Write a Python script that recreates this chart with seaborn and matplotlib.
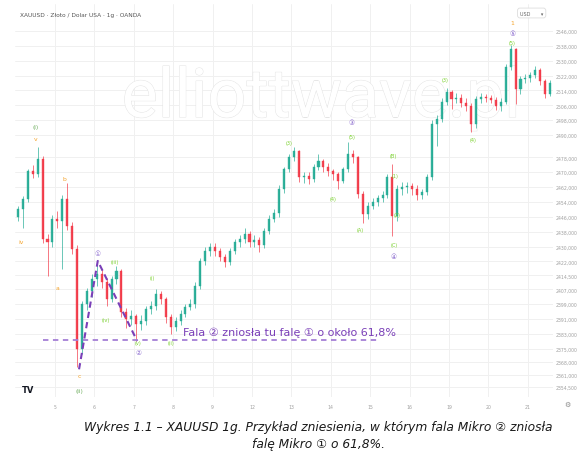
import numpy as np
import pandas as pd
import matplotlib
matplotlib.use("Agg")
import matplotlib.pyplot as plt
import matplotlib.patheffects as pe
import seaborn as sns

# ── Data: 3-hour candles, XAUUSD (8 per trading day) ─────────────────────────
first_open = 2446.0
close = [2450.0, 2455.5, 2470.5, 2469.0, 2477.0, 2434.0, 2432.5, 2445.0, 2444.0, 2455.5,
         2441.0, 2428.5, 2375.0, 2399.0, 2406.0, 2412.5, 2415.5, 2411.0, 2402.0, 2412.5,
         2417.0, 2395.0, 2391.0, 2392.5, 2388.5, 2390.0, 2396.5, 2398.0, 2404.5, 2402.0,
         2392.0, 2387.0, 2390.0, 2394.0, 2397.5, 2399.0, 2409.0, 2422.5, 2427.5, 2430.0,
         2427.5, 2424.5, 2421.5, 2427.5, 2432.5, 2434.0, 2437.0, 2432.5, 2433.5, 2431.0,
         2438.5, 2445.0, 2448.0, 2461.0, 2471.5, 2478.0, 2481.5, 2467.5, 2468.0, 2466.5,
         2473.0, 2476.0, 2473.0, 2470.5, 2469.0, 2465.5, 2471.5, 2480.0, 2478.0, 2458.5,
         2447.5, 2452.0, 2454.0, 2456.0, 2458.0, 2467.5, 2446.5, 2461.0, 2462.0, 2462.5,
         2461.0, 2458.0, 2459.5, 2467.5, 2496.0, 2498.5, 2508.0, 2513.0, 2509.5, 2510.0,
         2507.5, 2505.5, 2496.0, 2509.5, 2510.5, 2510.0, 2509.0, 2505.5, 2508.0, 2526.5,
         2536.5, 2515.0, 2520.0, 2520.5, 2522.5, 2525.0, 2519.0, 2512.0, 2518.0]
high = [2452.0, 2457.0, 2472.0, 2474.0, 2483.5, 2479.0, 2437.0, 2447.0, 2449.0, 2458.0,
        2464.0, 2443.0, 2431.0, 2401.0, 2408.0, 2415.0, 2421.5, 2418.0, 2413.0, 2414.0,
        2419.5, 2418.0, 2397.0, 2396.0, 2394.0, 2393.0, 2398.0, 2401.0, 2407.0, 2406.0,
        2403.0, 2394.0, 2392.0, 2396.0, 2399.0, 2402.0, 2411.0, 2424.0, 2430.0, 2432.0,
        2432.0, 2429.0, 2426.0, 2429.0, 2434.0, 2436.0, 2440.0, 2438.5, 2436.0, 2435.0,
        2440.0, 2447.0, 2450.0, 2463.0, 2473.0, 2480.0, 2483.5, 2482.0, 2470.0, 2470.0,
        2474.5, 2480.0, 2477.0, 2475.0, 2472.0, 2470.0, 2473.0, 2486.5, 2482.0, 2479.0,
        2460.0, 2454.0, 2456.0, 2458.0, 2460.0, 2469.0, 2474.5, 2463.0, 2465.0, 2465.0,
        2464.0, 2463.0, 2461.0, 2469.0, 2498.0, 2501.0, 2510.0, 2515.5, 2514.0, 2512.5,
        2512.0, 2510.0, 2507.0, 2511.0, 2512.5, 2512.0, 2511.5, 2510.5, 2510.0, 2528.0,
        2538.5, 2537.0, 2522.0, 2523.0, 2524.0, 2527.0, 2526.0, 2520.0, 2519.5]
low = [2444.0, 2440.0, 2454.0, 2467.0, 2467.5, 2432.0, 2414.0, 2430.0, 2440.0, 2418.0,
       2439.0, 2426.0, 2365.0, 2372.0, 2396.0, 2403.0, 2409.0, 2408.0, 2398.0, 2400.0,
       2410.0, 2392.0, 2386.0, 2388.0, 2379.0, 2385.0, 2388.0, 2394.0, 2396.0, 2399.0,
       2389.0, 2383.0, 2384.5, 2388.0, 2392.0, 2396.0, 2397.0, 2407.0, 2420.0, 2425.0,
       2425.0, 2422.0, 2419.0, 2420.0, 2426.0, 2430.0, 2432.0, 2430.0, 2430.0, 2427.0,
       2429.0, 2437.0, 2443.0, 2446.0, 2459.0, 2470.0, 2476.0, 2465.0, 2464.0, 2463.5,
       2465.0, 2471.0, 2470.0, 2468.0, 2466.0, 2461.0, 2464.0, 2470.0, 2475.0, 2456.0,
       2442.5, 2445.0, 2450.0, 2452.0, 2454.0, 2456.0, 2435.5, 2444.0, 2458.0, 2459.0,
       2458.0, 2455.0, 2455.5, 2458.0, 2466.0, 2484.0, 2497.0, 2506.0, 2504.0, 2507.0,
       2505.0, 2503.0, 2491.5, 2494.0, 2507.5, 2508.0, 2507.0, 2503.5, 2503.0, 2506.5,
       2525.0, 2506.5, 2512.0, 2518.0, 2518.5, 2520.5, 2517.0, 2510.0, 2511.0]

day_labels = ["5", "6", "7", "8", "9", "12", "13", "14", "15", "16", "19", "20", "21"]
price_ticks = [2546, 2538, 2530, 2522, 2514, 2506, 2498, 2490, 2478, 2470, 2462, 2454,
               2446, 2438, 2430, 2422, 2414.5, 2407, 2399, 2391, 2383, 2375, 2368, 2361, 2354.5]

# wave labels: (text, candle index, price, kind)
wave_labels = [
    ("(i)", 3.5, 2494.5, "major"), ("v", 3.5, 2488, "orange"), ("iv", 0.6, 2432.5, "orange"),
    ("b", 9.5, 2466.5, "orange"), ("a", 8.1, 2408, "orange"), ("c", 12.4, 2360.5, "orange"),
    ("(ii)", 12.4, 2352.5, "major"), ("\u2460", 16.2, 2426.5, "circle"),
    ("(iii)", 19.7, 2422, "minor"), ("(iv)", 17.9, 2391, "minor"), ("(v)", 24.4, 2378.5, "minor"),
    ("\u2461", 24.4, 2373.5, "circle"), ("(i)", 27.2, 2413.5, "minor"), ("(ii)", 31.1, 2378.5, "minor"),
    ("(3)", 55.0, 2486, "minor"), ("(4)", 64.0, 2456, "minor"), ("\u2462", 67.8, 2497, "circle"),
    ("(5)", 67.8, 2489, "minor"), ("(A)", 69.4, 2439, "minor"), ("(B)", 76.1, 2479, "minor"),
    ("(1)", 76.6, 2468, "minor"), ("(2)", 77.0, 2447.5, "minor"), ("(C)", 76.3, 2431, "minor"),
    ("\u2463", 76.3, 2425, "circle"), ("(3)", 86.7, 2520, "minor"), ("(4)", 92.4, 2487.5, "minor"),
    ("1", 100.3, 2550.5, "orange"), ("\u2464", 100.3, 2545, "circle"), ("(5)", 100.3, 2540, "minor"),
]
# dashed wave lines (candle index, price)
wave_t = [12.4, 16.2, 24.2]
wave_p = [2364.0, 2422.3, 2379.2]
retrace_level = 2379.5

# ── Build frame ───────────────────────────────────────────────────────────────
df = pd.DataFrame({"close": close, "high": high, "low": low})
df["open"] = [first_open] + close[:-1]
df["t"] = np.arange(len(df))
df["up"] = df["close"] >= df["open"]

sns.set_theme(style="white")
plt.rcParams["font.family"] = ["DejaVu Sans", "Noto Sans CJK SC"]

UP, DOWN = "#22ab94", "#f23645"
GREEN_MINOR, GREEN_MAJOR = "#79d12c", "#6fae5f"
ORANGE, PURPLE, CIRCLE = "#f5a32a", "#7a3fb8", "#8e6fd0"

fig = plt.figure(figsize=(5.78, 4.60), dpi=100)
ax = fig.add_axes([15 / 578, 1 - 398 / 460, 538 / 578, 393 / 460])
ax.set_xlim(-0.6, 108.6)
ax.set_ylim(2349.1, 2560.5)

# grid
day_pos = [8 * (i + 1) - 0.5 for i in range(len(day_labels))]
for x in day_pos:
    ax.axvline(x, color="#f0f0f0", lw=0.7, zorder=0)
for y in price_ticks:
    ax.axhline(y, color="#f0f0f0", lw=0.7, zorder=0)

# watermark
ax.text(321 / 578, 1 - 118 / 460, "elliottwave.pl", transform=fig.transFigure,
        ha="center", va="baseline", fontsize=49, family="Roboto", color="white",
        zorder=0.5, path_effects=[pe.Stroke(linewidth=0.7, foreground="#e4e4e4"), pe.Normal()])

# candles
colors = np.where(df["up"], UP, DOWN)
ax.vlines(df["t"], df["low"], df["high"], colors=colors, lw=0.55, alpha=0.85, zorder=2)
ax.bar(df["t"], (df["close"] - df["open"]).abs(), bottom=df[["open", "close"]].min(axis=1),
       width=0.42, color=colors, edgecolor=colors, linewidth=0.3, alpha=0.9, zorder=3)

# dashed wave lines
sns.lineplot(x=wave_t, y=wave_p, ax=ax, color=PURPLE, lw=1.5, dashes=False,
             linestyle=(0, (3, 2)), zorder=4)
ax.plot([5.1, 73.5], [retrace_level] * 2, color="#a57fd6", lw=1.3,
        linestyle=(0, (3, 2.5)), zorder=4)
ax.text(33.5, 2384.0, "Fala \u2461 zniosła tu falę \u2460 o około 61,8%", color=PURPLE,
        fontsize=8, ha="left", va="center", zorder=5)

styles = {"major": (GREEN_MAJOR, 4.2), "minor": (GREEN_MINOR, 3.6),
          "orange": (ORANGE, 4.4), "circle": (CIRCLE, 4.8)}
for txt, t, p, kind in wave_labels:
    c, fs = styles[kind]
    ax.text(t, p, txt, color=c, fontsize=fs, ha="center", va="center", zorder=5)

# axes cosmetics
for s in ax.spines.values():
    s.set_visible(False)
ax.set_xticks(day_pos)
ax.set_xticklabels(day_labels)
ax.set_yticks(price_ticks)
ax.set_yticklabels([f"{v:,.3f}".replace(",", " ").replace(".", ",").replace(" ", "")
                    for v in price_ticks])
ax.yaxis.tick_right()
ax.tick_params(axis="both", length=0, labelsize=3.3, colors="#a0a0a0", pad=2)
ax.tick_params(axis="x", pad=5)

# header / chrome
fig.text(20 / 578, 1 - 15 / 460, "XAUUSD · Złoto / Dolar USA · 1g · OANDA",
         fontsize=4.2, color="#555555", va="center")
fig.text(520 / 578, 1 - 14 / 460, "USD       \u25be", fontsize=3.5, color="#666666", va="center",
         bbox=dict(boxstyle="round,pad=0.5", fc="white", ec="#dddddd", lw=0.6))
fig.text(22 / 578, 1 - 391 / 460, "TV", fontsize=6, weight="heavy", color="#131722", va="center")
fig.text(567 / 578, 1 - 405 / 460, "\u2699", fontsize=5, color="#888888", va="center", ha="center")

# caption
fig.text(318 / 578, 1 - 436 / 460,
         "Wykres 1.1 – XAUUSD 1g. Przykład zniesienia, w którym fala Mikro \u2461 zniosła\n"
         "falę Mikro \u2460 o 61,8%.",
         ha="center", va="center", fontsize=8.8, style="italic", color="#1a1a1a",
         linespacing=1.45)

fig.savefig("out.png", dpi=100)
